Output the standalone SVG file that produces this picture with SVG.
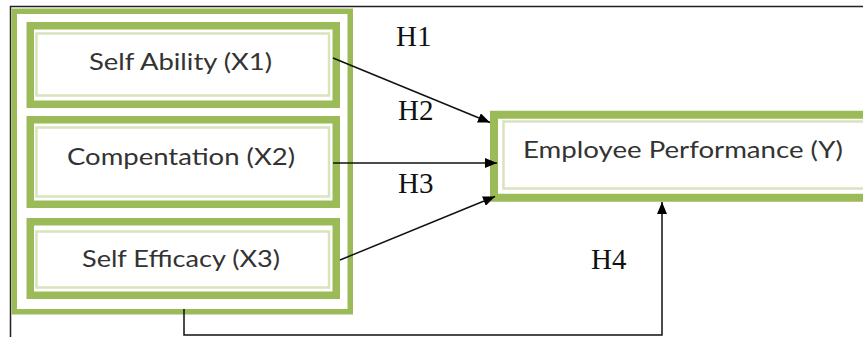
<svg xmlns="http://www.w3.org/2000/svg" width="863" height="337" viewBox="0 0 863 337">
  <style>
    .band { fill: none; stroke: #9BBB59; }
    .thin { fill: none; stroke: #D7E4BD; stroke-width: 2.5; }
    .lbl { font-family: Lato, "Open Sans", "Liberation Sans", sans-serif; font-size: 23px; font-weight: 400; fill: #333; }
    .h { font-family: "Liberation Serif", "Times New Roman", serif; font-size: 29px; fill: #111; }
    .conn { fill: none; stroke: #111; stroke-width: 1.5; }
    .frame { stroke: #222; stroke-width: 1.5; fill: none; }
  </style>
  <defs>
    <marker id="arr" viewBox="0 0 12 10" refX="12" refY="5" markerWidth="12" markerHeight="10" markerUnits="userSpaceOnUse" orient="auto">
      <path d="M0,0 L12,5 L0,10 z" fill="#000"/>
    </marker>
  </defs>
  <rect width="863" height="337" fill="#fff"/>
  <g id="page-frame">
    <path class="frame" d="M10.5,337 V6.5 H863"/>
  </g>
  <g id="independent-group">
    <rect class="band" x="14.25" y="11.25" width="336" height="300.5" stroke-width="5.5"/>
  </g>
  <g id="node-x1">
    <rect class="band" x="30.25" y="25.75" width="306" height="78.5" stroke-width="7.5"/>
    <rect class="thin" x="36.5" y="33.5" width="292.5" height="62"/>
    <text class="lbl" x="89" y="70" textLength="183" lengthAdjust="spacingAndGlyphs">Self Ability (X1)</text>
  </g>
  <g id="node-x2">
    <rect class="band" x="30.25" y="119.75" width="306" height="84.5" stroke-width="7.5"/>
    <rect class="thin" x="36.5" y="127.5" width="292.5" height="69"/>
    <text class="lbl" x="67" y="165" textLength="228" lengthAdjust="spacingAndGlyphs">Compentation (X2)</text>
  </g>
  <g id="node-x3">
    <rect class="band" x="30.25" y="221.75" width="306" height="73.5" stroke-width="7.5"/>
    <rect class="thin" x="36.5" y="231.5" width="292.5" height="56"/>
    <text class="lbl" x="82" y="266.5" textLength="198" lengthAdjust="spacingAndGlyphs">Self Efficacy (X3)</text>
  </g>
  <g id="node-y">
    <rect class="band" x="494" y="114.75" width="400" height="83" stroke-width="8"/>
    <rect class="thin" x="503.5" y="121.5" width="400" height="67"/>
    <text class="lbl" x="523" y="158" textLength="320" lengthAdjust="spacingAndGlyphs">Employee Performance (Y)</text>
  </g>
  <g id="connectors">
    <line class="conn" x1="333" y1="58" x2="490" y2="122.5" marker-end="url(#arr)"/>
    <line class="conn" x1="333" y1="163" x2="497" y2="163" marker-end="url(#arr)"/>
    <line class="conn" x1="340" y1="260" x2="495" y2="196.5" marker-end="url(#arr)"/>
    <path class="conn" d="M184,309 V335 H662 V202" marker-end="url(#arr)"/>
  </g>
  <g id="labels">
    <text class="h" x="396" y="46">H1</text>
    <text class="h" x="398" y="120">H2</text>
    <text class="h" x="398" y="193">H3</text>
    <text class="h" x="591" y="269">H4</text>
  </g>
</svg>
